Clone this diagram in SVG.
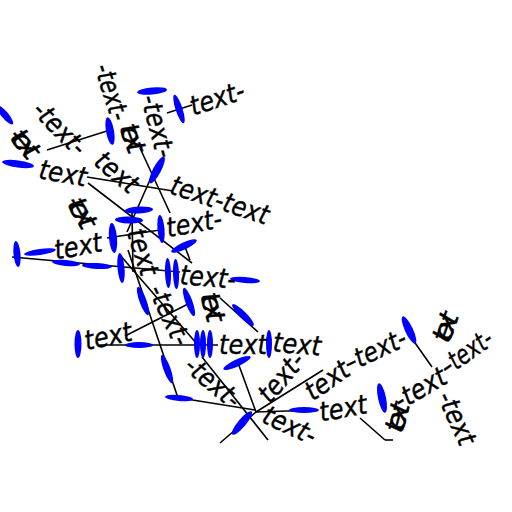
<svg xmlns="http://www.w3.org/2000/svg" width="512" height="512" viewBox="0 0 512 512">
<style>
.e{fill:#0000ff;stroke:none}
.l{stroke:#000;stroke-width:1.6;fill:none}
text{font-family:"DejaVu Sans","Liberation Sans",sans-serif;font-size:27px;font-style:italic;fill:#000;stroke:#000;stroke-width:0.4;text-anchor:middle;dominant-baseline:central}
</style>
<rect width="512" height="512" fill="#fff"/>
<g id="connectors">
<line class="l" x1="47" y1="150" x2="110" y2="130"/>
<line class="l" x1="87" y1="177" x2="173" y2="191"/>
<line class="l" x1="88" y1="183" x2="192" y2="263"/>
<line class="l" x1="140" y1="148" x2="170" y2="213"/>
<line class="l" x1="153" y1="173" x2="127" y2="232"/>
<line class="l" x1="132" y1="212" x2="133" y2="272"/>
<line class="l" x1="12" y1="257" x2="180" y2="272"/>
<line class="l" x1="128" y1="250" x2="178" y2="398"/>
<line class="l" x1="120" y1="255" x2="197" y2="344"/>
<line class="l" x1="125" y1="336" x2="190" y2="303"/>
<line class="l" x1="100" y1="345" x2="218" y2="345"/>
<line class="l" x1="220" y1="298" x2="258" y2="332"/>
<line class="l" x1="107" y1="238" x2="160" y2="230"/>
<line class="l" x1="185" y1="247" x2="190" y2="260"/>
<line class="l" x1="167" y1="113" x2="192" y2="105"/>
<line class="l" x1="180" y1="398" x2="255" y2="410"/>
<line class="l" x1="237" y1="360" x2="256" y2="412"/>
<line class="l" x1="202" y1="357" x2="268" y2="440"/>
<line class="l" x1="220" y1="443" x2="256" y2="412"/>
<line class="l" x1="256" y1="412" x2="323" y2="370"/>
<line class="l" x1="256" y1="412" x2="318" y2="410"/>
<line class="l" x1="360" y1="418" x2="385" y2="440"/>
<line class="l" x1="385" y1="440" x2="393" y2="440"/>
<line class="l" x1="413" y1="340" x2="432" y2="367"/>
</g>
<g id="markers">
<ellipse class="e" cx="152" cy="91" rx="15" ry="3.5" transform="rotate(-5 152 91)"/>
<ellipse class="e" cx="179" cy="109" rx="15" ry="3.5" transform="rotate(72 179 109)"/>
<ellipse class="e" cx="110" cy="131" rx="14" ry="4" transform="rotate(80 110 131)"/>
<ellipse class="e" cx="5" cy="115" rx="12" ry="3.5" transform="rotate(50 5 115)"/>
<ellipse class="e" cx="18" cy="164" rx="16" ry="3.5" transform="rotate(8 18 164)"/>
<ellipse class="e" cx="157" cy="170" rx="15" ry="4" transform="rotate(-62 157 170)"/>
<ellipse class="e" cx="139" cy="210" rx="14" ry="3.5" transform="rotate(-3 139 210)"/>
<ellipse class="e" cx="129" cy="220" rx="14" ry="3.5" transform="rotate(2 129 220)"/>
<ellipse class="e" cx="161" cy="229" rx="14" ry="3.5" transform="rotate(85 161 229)"/>
<ellipse class="e" cx="113" cy="238" rx="15" ry="4" transform="rotate(85 113 238)"/>
<ellipse class="e" cx="17" cy="254" rx="13" ry="3.5" transform="rotate(85 17 254)"/>
<ellipse class="e" cx="40" cy="252" rx="16" ry="3" transform="rotate(-8 40 252)"/>
<ellipse class="e" cx="66" cy="263" rx="14" ry="3" transform="rotate(5 66 263)"/>
<ellipse class="e" cx="97" cy="266" rx="15" ry="3" transform="rotate(3 97 266)"/>
<ellipse class="e" cx="121" cy="268" rx="15" ry="3.5" transform="rotate(85 121 268)"/>
<ellipse class="e" cx="184" cy="246" rx="14" ry="3.5" transform="rotate(-25 184 246)"/>
<ellipse class="e" cx="168" cy="273" rx="15" ry="3" transform="rotate(88 168 273)"/>
<ellipse class="e" cx="176" cy="274" rx="15" ry="3" transform="rotate(88 176 274)"/>
<ellipse class="e" cx="245" cy="280" rx="15" ry="3" transform="rotate(5 245 280)"/>
<ellipse class="e" cx="143" cy="301" rx="15" ry="3.5" transform="rotate(70 143 301)"/>
<ellipse class="e" cx="189" cy="302" rx="15" ry="3.5" transform="rotate(70 189 302)"/>
<ellipse class="e" cx="243" cy="315" rx="15" ry="3.5" transform="rotate(45 243 315)"/>
<ellipse class="e" cx="78" cy="344" rx="14" ry="3.5" transform="rotate(90 78 344)"/>
<ellipse class="e" cx="139" cy="345" rx="14" ry="3" transform="rotate(0 139 345)"/>
<ellipse class="e" cx="197" cy="344" rx="14" ry="3" transform="rotate(90 197 344)"/>
<ellipse class="e" cx="203" cy="344" rx="14" ry="3" transform="rotate(90 203 344)"/>
<ellipse class="e" cx="210" cy="344" rx="14" ry="3" transform="rotate(90 210 344)"/>
<ellipse class="e" cx="269" cy="344" rx="14" ry="3" transform="rotate(90 269 344)"/>
<ellipse class="e" cx="167" cy="369" rx="15" ry="3.5" transform="rotate(70 167 369)"/>
<ellipse class="e" cx="237" cy="363" rx="15" ry="3.5" transform="rotate(-25 237 363)"/>
<ellipse class="e" cx="179" cy="398" rx="14" ry="3" transform="rotate(5 179 398)"/>
<ellipse class="e" cx="242" cy="423" rx="15" ry="4" transform="rotate(-50 242 423)"/>
<ellipse class="e" cx="304" cy="410" rx="15" ry="3" transform="rotate(0 304 410)"/>
<ellipse class="e" cx="382" cy="398" rx="15" ry="4" transform="rotate(78 382 398)"/>
<ellipse class="e" cx="409" cy="330" rx="15" ry="4" transform="rotate(65 409 330)"/>
</g>
<g id="labels">
<text transform="translate(217,98) rotate(-18)" textLength="56" lengthAdjust="spacingAndGlyphs">text-</text>
<text transform="translate(158,126) rotate(75)" textLength="64" lengthAdjust="spacingAndGlyphs">-text-</text>
<text transform="translate(112,92) rotate(72)" textLength="58" lengthAdjust="spacingAndGlyphs">-text-</text>
<text transform="translate(133,138) rotate(70)" textLength="30" lengthAdjust="spacing">text</text>
<text transform="translate(60,128) rotate(45)" textLength="64" lengthAdjust="spacingAndGlyphs">-text-</text>
<text transform="translate(117,172) rotate(40)" textLength="48" lengthAdjust="spacingAndGlyphs">text</text>
<text transform="translate(25,143) rotate(50)" textLength="32" lengthAdjust="spacing">-text</text>
<text transform="translate(63,173) rotate(10)" textLength="48" lengthAdjust="spacingAndGlyphs">text</text>
<text transform="translate(82,212) rotate(60)" textLength="34" lengthAdjust="spacing">-text</text>
<text transform="translate(78,246) rotate(-10)" textLength="48" lengthAdjust="spacingAndGlyphs">text</text>
<text transform="translate(220,200) rotate(18)" textLength="102" lengthAdjust="spacingAndGlyphs">text-text</text>
<text transform="translate(194,223) rotate(-10)" textLength="56" lengthAdjust="spacingAndGlyphs">text-</text>
<text transform="translate(143,252) rotate(72)" textLength="48" lengthAdjust="spacingAndGlyphs">text</text>
<text transform="translate(170,315) rotate(65)" textLength="64" lengthAdjust="spacingAndGlyphs">-text-</text>
<text transform="translate(208,277) rotate(5)" textLength="56" lengthAdjust="spacingAndGlyphs">text-</text>
<text transform="translate(213,307) rotate(75)" textLength="30" lengthAdjust="spacing">text</text>
<text transform="translate(108,336) rotate(-12)" textLength="48" lengthAdjust="spacingAndGlyphs">text</text>
<text transform="translate(243,344)" textLength="48" lengthAdjust="spacingAndGlyphs">text</text>
<text transform="translate(297,344) rotate(5)" textLength="48" lengthAdjust="spacingAndGlyphs">text</text>
<text transform="translate(213,382) rotate(40)" textLength="64" lengthAdjust="spacingAndGlyphs">-text-</text>
<text transform="translate(281,377) rotate(-50)" textLength="56" lengthAdjust="spacingAndGlyphs">text-</text>
<text transform="translate(327,380) rotate(-35)" textLength="48" lengthAdjust="spacingAndGlyphs">text</text>
<text transform="translate(375,350) rotate(-25)" textLength="66" lengthAdjust="spacingAndGlyphs">–text-</text>
<text transform="translate(290,425) rotate(25)" textLength="56" lengthAdjust="spacingAndGlyphs">text-</text>
<text transform="translate(343,408) rotate(-10)" textLength="48" lengthAdjust="spacingAndGlyphs">text</text>
<text transform="translate(397,417) rotate(-75)" textLength="30" lengthAdjust="spacing">text</text>
<text transform="translate(420,388) rotate(-30)" textLength="56" lengthAdjust="spacingAndGlyphs">-text</text>
<text transform="translate(466,352) rotate(-35)" textLength="58" lengthAdjust="spacingAndGlyphs">–text-</text>
<text transform="translate(445,327) rotate(-70)" textLength="30" lengthAdjust="spacing">text</text>
<text transform="translate(457,418) rotate(65)" textLength="56" lengthAdjust="spacingAndGlyphs">-text</text>
</g>
</svg>
